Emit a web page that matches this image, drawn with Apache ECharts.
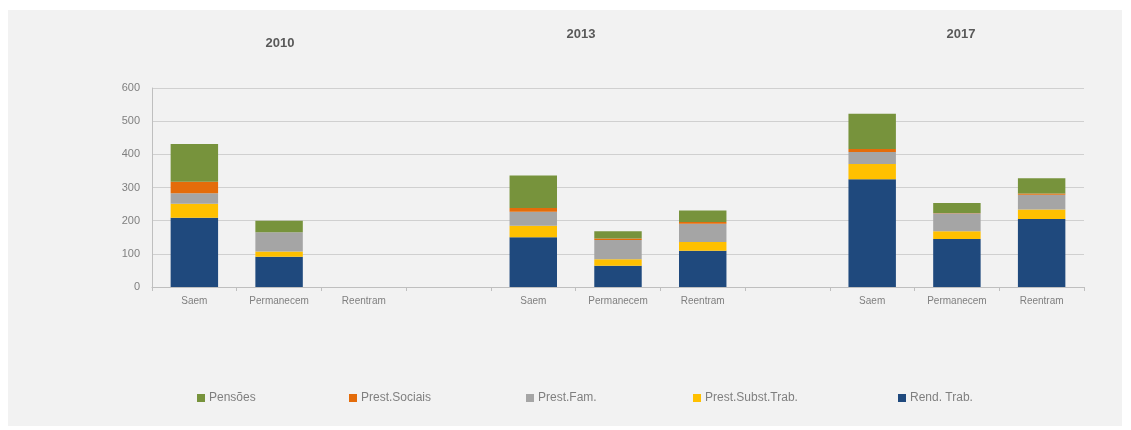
<!DOCTYPE html>
<html>
<head>
<meta charset="utf-8">
<script src="https://cdn.jsdelivr.net/npm/echarts@6/dist/echarts.min.js"></script>
<style>
  html, body { margin: 0; padding: 0; background: #ffffff; }
  #panel { position: absolute; left: 8px; top: 10px; width: 1114px; height: 416px; background: #f2f2f2; }
  #chart { position: absolute; left: 0; top: 0; width: 1131px; height: 430px; }
</style>
</head>
<body>
<div id="panel"></div>
<div id="chart"></div>
<script>
// Groups of three movements per year, separated by an empty slot
const categories = ['Saem', 'Permanecem', 'Reentram', '', 'Saem', 'Permanecem', 'Reentram', '', 'Saem', 'Permanecem', 'Reentram'];
const years = ['2010', '2013', '2017'];

// Stacked components (bottom to top)
const rendTrab       = [209, 91, null, null, 150, 64, 109, null, 325, 145, 205];
const prestSubstTrab = [42, 16, null, null, 35, 20, 27, null, 46, 23, 29];
const prestFam       = [32, 58, null, null, 42, 58, 55, null, 36, 54, 44];
const prestSociais   = [34, 0, null, null, 11, 4, 5, null, 9, 1, 4];
const pensoes        = [114, 35, null, null, 98, 22, 35, null, 106, 30, 46];

const yTicks = { min: 0, max: 600, interval: 100 };

const textGray = '#7f7f7f';
const font = '"Liberation Sans", Arial, sans-serif';

const seriesDefs = [
  { name: 'Rend. Trab.', data: rendTrab, color: '#1f497d' },
  { name: 'Prest.Subst.Trab.', data: prestSubstTrab, color: '#ffc000' },
  { name: 'Prest.Fam.', data: prestFam, color: '#a5a5a5' },
  { name: 'Prest.Sociais', data: prestSociais, color: '#e46c0a' },
  { name: 'Pensões', data: pensoes, color: '#77933c' }
];

// Legend entries laid out left to right
const legendOrder = [
  { name: 'Pensões', left: 197 },
  { name: 'Prest.Sociais', left: 349 },
  { name: 'Prest.Fam.', left: 526 },
  { name: 'Prest.Subst.Trab.', left: 693 },
  { name: 'Rend. Trab.', left: 898 }
];

// Year headings above each group
const yearPos = [
  { x: 280, y: 43 },
  { x: 581, y: 34 },
  { x: 961, y: 34 }
];

const chart = echarts.init(document.getElementById('chart'), null, { renderer: 'canvas' });

chart.setOption({
  backgroundColor: 'transparent',
  animation: false,
  textStyle: { fontFamily: font },
  grid: { left: 152, right: 47, top: 88, bottom: 143, containLabel: false },
  legend: legendOrder.map(l => ({
    data: [l.name],
    left: l.left,
    top: 392,
    icon: 'rect',
    itemWidth: 8,
    itemHeight: 8,
    itemGap: 0,
    padding: 0,
    selectedMode: false,
    textStyle: { color: textGray, fontSize: 12, fontFamily: font, padding: [0, 0, 0, -1] }
  })),
  graphic: years.map((yr, i) => ({
    type: 'text',
    x: yearPos[i].x,
    y: yearPos[i].y,
    style: {
      text: yr,
      fill: '#595959',
      font: 'bold 13px ' + font,
      textAlign: 'center',
      textVerticalAlign: 'middle'
    }
  })),
  xAxis: {
    type: 'category',
    data: categories,
    boundaryGap: true,
    axisLine: { lineStyle: { color: '#bfbfbf', width: 1 } },
    axisTick: { show: true, interval: 0, length: 4, inside: false, lineStyle: { color: '#bfbfbf' } },
    axisLabel: { interval: 0, color: textGray, fontSize: 10, margin: 9, fontFamily: font }
  },
  yAxis: {
    type: 'value',
    min: yTicks.min,
    max: yTicks.max,
    interval: yTicks.interval,
    axisLine: { show: true, lineStyle: { color: '#bfbfbf' } },
    axisTick: { show: false },
    axisLabel: { color: textGray, fontSize: 11, margin: 12, fontFamily: font },
    splitLine: { lineStyle: { color: '#d0d0d0', width: 1 } }
  },
  series: seriesDefs.map(s => ({
    name: s.name,
    type: 'bar',
    stack: 'total',
    barWidth: '56%',
    data: s.data,
    itemStyle: { color: s.color },
    emphasis: { disabled: true }
  }))
});
</script>
</body>
</html>
